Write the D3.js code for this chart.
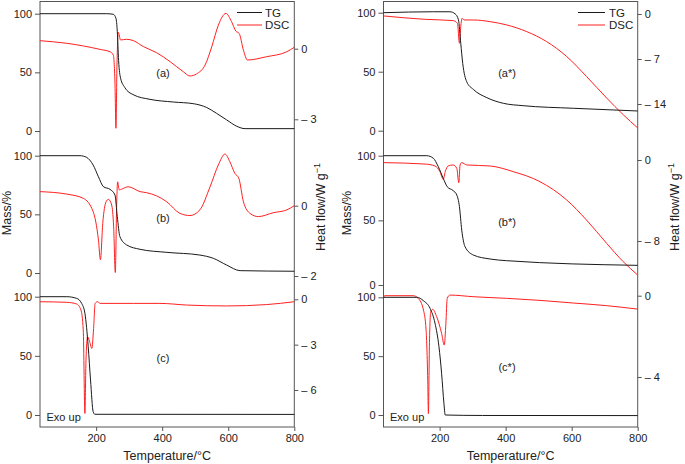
<!DOCTYPE html>
<html>
<head>
<meta charset="utf-8">
<script src="https://cdn.jsdelivr.net/npm/d3@7"></script>
<style>
  html, body { margin: 0; padding: 0; background: #fff; }
  svg { display: block; font-family: "Liberation Sans", Arial, sans-serif; }
  .tick text { font-size: 11px; fill: #222; }
</style>
</head>
<body>
<svg id="chart" width="685" height="464"></svg>
<script>
// ---------------- DATA ----------------
const tempTicks = [200, 400, 600, 800];
const massTicks = [0, 50, 100];
const seriesNames = ["TG", "DSC"];
const panelLabels = ["(a)", "(b)", "(c)", "(a*)", "(b*)", "(c*)"];
const dscTicksA = [0, -3], dscTicksB = [0, -2], dscTicksC = [0, -3, -6];
const dscTicksAs = [0, -7, -14], dscTicksBs = [0, -8], dscTicksCs = [0, -4];

// [temperature °C, mass %]
const tgA = [[30,100],[232,100],[252,99.5],[260,96],[264,85],[268,60],[274,45],[287,37],[312,31],[363,27],[434,24.7],[494,23.3],[535,20],[565,15],[595,9.5],[626,4],[651,2],[800,2]];
// [temperature °C, heat flow W/g]
const dscA = [[30,0.34],[111,0.23],[212,-0.03],[242,-0.13],[252,-0.27],[257,-1.47],[260,-3.38],[263,-0.76],[267,0.7],[274,0.37],[292,0.4],[313,0.34],[343,0.09],[383,-0.17],[424,-0.55],[464,-0.98],[484,-1.16],[504,-1.07],[530,-0.69],[550,0.08],[570,1.0],[593,1.5],[610,1.15],[623,0.75],[633,0.65],[646,-0.06],[658,-0.48],[716,-0.34],[777,-0.13],[800,0.06]];

const tgB = [[30,100],[151,100],[171,98.6],[191,92],[207,82],[222,73.6],[242,71.3],[257,66.5],[264,48],[272,31],[292,24],[333,20.2],[414,17.6],[514,15.3],[555,12.5],[595,6.8],[636,2],[800,1.5]];
const dscB = [[30,0.4],[111,0.33],[161,0.21],[191,-0.17],[207,-0.98],[213,-1.54],[220,-0.5],[230,0.11],[237,0.18],[247,0.02],[253,-0.6],[258,-1.9],[262,-0.03],[265,0.68],[270,0.45],[277,0.47],[297,0.54],[333,0.4],[353,0.37],[383,0.28],[414,0.11],[454,-0.22],[484,-0.28],[514,-0.12],[545,0.54],[570,1.16],[590,1.47],[605,1.25],[620,0.92],[632,0.78],[646,0.11],[666,-0.22],[691,-0.31],[736,-0.2],[777,-0.12],[800,0]];

const tgC = [[30,100],[111,100],[141,98.6],[156,94.4],[166,86],[176,57.7],[183,29.6],[191,2.8],[196,0.6],[800,0.5]];
const dscC = [[30,-0.16],[111,-0.2],[141,-0.31],[154,-0.71],[161,-2.03],[166,-7.55],[169,-4.24],[174,-2.47],[179,-2.7],[187,-3.25],[192,-2.03],[197,-0.27],[204,-0.16],[212,-0.27],[313,-0.27],[393,-0.27],[474,-0.38],[595,-0.44],[716,-0.35],[800,-0.16]];

const tgAs = [[30,100],[181,100.8],[231,100.8],[247,99],[257,94],[264,74],[270,57],[282,41.5],[302,35],[343,28],[393,23.2],[453,21.2],[605,19],[800,16.7]];
const dscAs = [[30,-0.3],[156,-0.83],[241,-1.03],[254,-1.45],[260,-4.55],[264,-1.96],[268,-0.67],[274,-0.93],[302,-0.93],[353,-1.19],[403,-1.7],[464,-2.74],[524,-4.29],[585,-6.62],[645,-9.72],[706,-13.07],[756,-15.66],[800,-17.72]];

const tgBs = [[30,100],[161,100],[181,98],[196,91.5],[211,82.5],[223,76],[241,73],[252,69.6],[260,60.6],[267,42.5],[277,29.6],[302,23.2],[353,20.1],[403,18.8],[800,15.2]];
const dscBs = [[30,-0.26],[156,-0.4],[186,-0.59],[201,-1.15],[211,-1.91],[217,-1.15],[226,-0.59],[241,-0.49],[252,-0.82],[258,-2.24],[262,-0.49],[267,-0.26],[282,-0.49],[353,-0.59],[423,-1.15],[504,-2.14],[585,-3.95],[645,-5.93],[706,-8.23],[756,-10.04],[800,-11.36]];

const tgCs = [[30,100],[131,100],[151,97.1],[171,90.6],[186,78],[198,58],[206,35.4],[213,10],[217,0],[330,-0.4],[800,-0.5]];
const dscCs = [[30,-0.13],[33,0],[120,0],[135,-0.13],[151,-0.7],[159,-1.69],[164,-4.15],[166,-5.8],[169,-2.51],[173,-0.79],[179,-0.67],[191,-1.03],[206,-1.85],[214,-2.43],[219,-1.36],[223,-0.13],[231,0.03],[302,-0.05],[403,-0.13],[504,-0.23],[605,-0.36],[706,-0.49],[800,-0.66]];

// ---------------- LAYOUT ----------------
const svg = d3.select("#chart");
const TG_COLOR = "#1a1a1a", DSC_COLOR = "#ff2020", AXIS_COLOR = "#555";
const cols = [
  { x0: 40, x1: 294.3, top: 1.5, bottom: 427 },
  { x0: 383.5, x1: 637.7, top: 1.5, bottom: 427 }
];
const panels = [
  { col: 0, tg: tgA, dsc: dscA, label: panelLabels[0], tgR: [131, 13.7], dscD: [0, -3], dscR: [48.7, 119.3], ticks: dscTicksA, lx: 163, ly: 77 },
  { col: 0, tg: tgB, dsc: dscB, label: panelLabels[1], tgR: [273, 155.7], dscD: [0, -2], dscR: [205.7, 276], ticks: dscTicksB, lx: 163, ly: 221.5 },
  { col: 0, tg: tgC, dsc: dscC, label: panelLabels[2], tgR: [415, 296.7], dscD: [0, -6], dscR: [299.3, 390], ticks: dscTicksC, lx: 163, ly: 362 },
  { col: 1, tg: tgAs, dsc: dscAs, label: panelLabels[3], tgR: [130.7, 12.7], dscD: [0, -14], dscR: [14, 104], ticks: dscTicksAs, lx: 507, ly: 76.5 },
  { col: 1, tg: tgBs, dsc: dscBs, label: panelLabels[4], tgR: [285, 155.7], dscD: [0, -8], dscR: [160, 241], ticks: dscTicksBs, lx: 507, ly: 225.5 },
  { col: 1, tg: tgCs, dsc: dscCs, label: panelLabels[5], tgR: [415, 297.3], dscD: [0, -4], dscR: [295.7, 377], ticks: dscTicksCs, lx: 507, ly: 370.5 }
];

const fmtDsc = d => d === 0 ? "0" : "\u2013 " + Math.abs(d);

cols.forEach((c, ci) => {
  c.x = d3.scaleLinear().domain([30, 800]).range([c.x0, c.x1]);
  // frame
  svg.append("rect").attr("x", c.x0).attr("y", c.top)
    .attr("width", c.x1 - c.x0).attr("height", c.bottom - c.top)
    .attr("fill", "none").attr("stroke", AXIS_COLOR).attr("stroke-width", 1);
  // x axis
  const gx = svg.append("g").attr("transform", `translate(0,${c.bottom})`)
    .call(d3.axisBottom(c.x).tickValues(tempTicks).tickSize(4).tickPadding(3));
  gx.select(".domain").remove();
  gx.selectAll("line").attr("stroke", AXIS_COLOR);
  // x title
  svg.append("text").attr("x", (c.x0 + c.x1) / 2).attr("y", 460)
    .attr("text-anchor", "middle").attr("font-size", 12.5).attr("fill", "#222")
    .text("Temperature/\u00B0C");
  // y titles
  const cx = ci === 0 ? 11 : 351;
  svg.append("text").attr("transform", `translate(${cx},213) rotate(-90)`)
    .attr("text-anchor", "middle").attr("font-size", 12.5).attr("fill", "#222")
    .text("Mass/%");
  const rx = ci === 0 ? 325 : 679;
  const ht = svg.append("text").attr("transform", `translate(${rx},207) rotate(-90)`)
    .attr("text-anchor", "middle").attr("font-size", 12.5).attr("fill", "#222");
  ht.append("tspan").text("Heat flow/W g");
  ht.append("tspan").attr("font-size", 9).attr("dy", -5).text("\u22121");
  // Exo up
  svg.append("text").attr("x", c.x0 + 6.5).attr("y", 420.5)
    .attr("font-size", 11).attr("fill", "#222").text("Exo up");
});

const line = d3.line().curve(d3.curveMonotoneX);

panels.forEach(p => {
  const c = cols[p.col];
  const yT = d3.scaleLinear().domain([0, 100]).range(p.tgR);
  const yD = d3.scaleLinear().domain(p.dscD).range(p.dscR);
  // left axis
  const gl = svg.append("g").attr("transform", `translate(${c.x0},0)`)
    .call(d3.axisLeft(yT).tickValues(massTicks).tickSize(5).tickPadding(3));
  gl.select(".domain").remove();
  gl.selectAll("line").attr("stroke", AXIS_COLOR);
  // right axis
  const gr = svg.append("g").attr("transform", `translate(${c.x1},0)`)
    .call(d3.axisRight(yD).tickValues(p.ticks).tickFormat(fmtDsc).tickSize(4).tickPadding(3));
  gr.select(".domain").remove();
  gr.selectAll("line").attr("stroke", AXIS_COLOR);
  // curves
  svg.append("path").datum(p.dsc)
    .attr("d", line.x(d => c.x(d[0])).y(d => yD(d[1])))
    .attr("fill", "none").attr("stroke", DSC_COLOR).attr("stroke-width", 1);
  svg.append("path").datum(p.tg)
    .attr("d", line.x(d => c.x(d[0])).y(d => yT(d[1])))
    .attr("fill", "none").attr("stroke", TG_COLOR).attr("stroke-width", 1);
  // panel label
  svg.append("text").attr("x", p.lx).attr("y", p.ly).attr("text-anchor", "middle")
    .attr("font-size", 11).attr("fill", "#222").text(p.label);
});

// legends
const legends = [{ x0: 237, x1: 262, tx: 265 }, { x0: 578, x1: 605, tx: 609 }];
legends.forEach(l => {
  seriesNames.forEach((n, i) => {
    const y = 12.5 + i * 12.5;
    svg.append("line").attr("x1", l.x0).attr("x2", l.x1).attr("y1", y).attr("y2", y)
      .attr("stroke", i === 0 ? TG_COLOR : DSC_COLOR).attr("stroke-width", 1);
    svg.append("text").attr("x", l.tx).attr("y", y).attr("dy", "0.35em")
      .attr("font-size", 11.5).attr("fill", "#222").text(n);
  });
});
</script>
</body>
</html>
